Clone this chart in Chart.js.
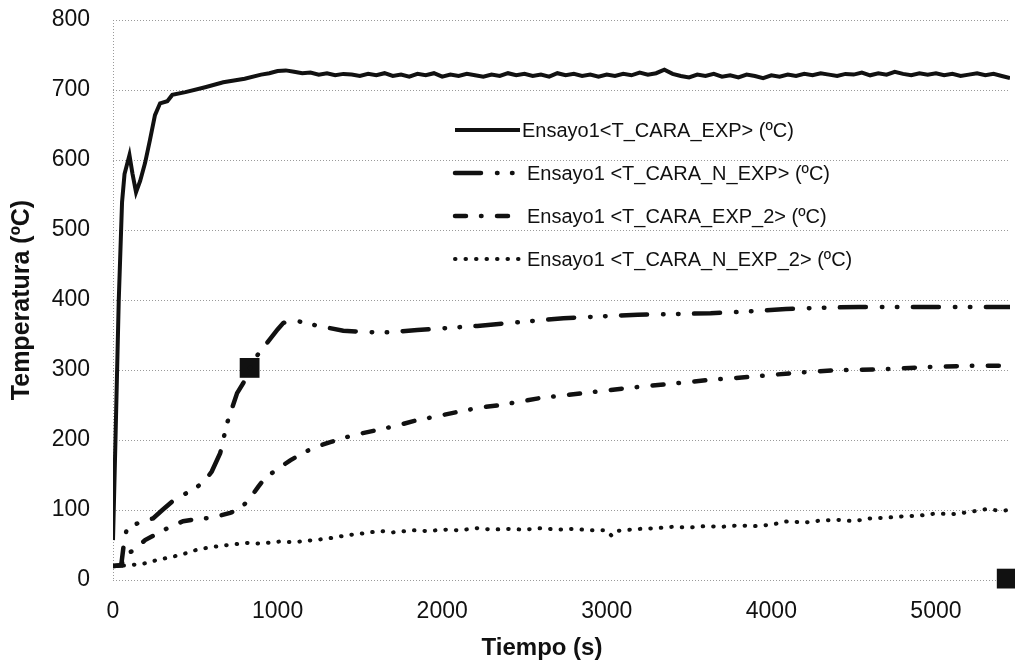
<!DOCTYPE html>
<html>
<head>
<meta charset="utf-8">
<script src="https://cdn.jsdelivr.net/npm/chart.js@4.4.0/dist/chart.umd.min.js"></script>
<style>
  html, body { margin: 0; padding: 0; background: #fff; }
  #wrap { width: 1015px; height: 669px; }
</style>
</head>
<body>
<div id="wrap"><canvas id="myChart" width="1015" height="669"></canvas></div>
<script>
// Ensayo1 <T_CARA_EXP> (solid)
const tCara = [0, 15, 35, 55, 70, 100, 118, 140, 165, 195, 225, 255, 286, 330, 360, 440, 560, 670, 800, 900, 950,
  1000, 1050, 1100, 1150, 1200, 1250, 1300, 1350, 1400, 1450,
  1500, 1550, 1600, 1650, 1700, 1750, 1800, 1850, 1900, 1950,
  2000, 2050, 2100, 2150, 2200, 2250, 2300, 2350, 2400, 2450,
  2500, 2550, 2600, 2650, 2700, 2750, 2800, 2850, 2900, 2950,
  3000, 3050, 3100, 3150, 3200, 3250, 3300, 3350, 3400, 3450,
  3500, 3550, 3600, 3650, 3700, 3750, 3800, 3850, 3900, 3950,
  4000, 4050, 4100, 4150, 4200, 4250, 4300, 4350, 4400, 4450,
  4500, 4550, 4600, 4650, 4700, 4750, 4800, 4850, 4900, 4950,
  5000, 5050, 5100, 5150, 5200, 5250, 5300, 5350, 5400, 5450];
const vCara = [57, 200, 400, 540, 580, 607, 581, 554, 570, 596, 629, 664, 681, 684, 693, 697, 704, 711, 716, 722, 724,
  727, 728, 726, 724, 725, 722, 724, 721, 723, 722,
  720, 723, 721, 724, 720, 722, 719, 723, 721, 724,
  719, 722, 720, 723, 721, 719, 722, 720, 724, 721,
  723, 720, 722, 719, 724, 721, 723, 720, 722, 719,
  722, 720, 723, 721, 725, 722, 724, 729, 723, 720,
  718, 722, 720, 723, 719, 721, 718, 722, 720, 717,
  721, 719, 722, 720, 723, 721, 724, 722, 720, 723,
  722, 725, 721, 724, 722, 726, 723, 721, 724, 722,
  724, 721, 723, 720, 722, 724, 721, 723, 720, 717];

// Ensayo1 <T_CARA_N_EXP>
const tCaraN = [0, 50, 65, 85, 150, 243, 300, 359, 438, 511, 560, 600, 651, 693, 754, 791, 833, 880, 937, 1000, 1034, 1080,
  1137, 1229, 1399, 1575, 1673, 1849, 2031, 2214, 2400, 2737, 3000, 3187, 3400, 3631, 3814, 4088, 4300, 4532, 4982, 5200, 5450];
const vCaraN = [20, 21, 50, 75, 81, 88, 100, 112, 123, 133, 142, 155, 181, 224, 267, 281, 303, 322, 339, 358, 367, 371,
  369, 364, 356, 354, 354, 357, 360, 363, 367, 374, 377, 379, 380, 381, 383, 387, 389, 390, 390, 390, 390];

// Ensayo1 <T_CARA_EXP_2>
const tCara2 = [0, 50, 70, 128, 195, 268, 347, 426, 505, 602, 712, 760, 821, 882, 925, 991, 1077, 1137, 1217, 1320, 1460,
  1582, 1715, 1825, 1971, 2092, 2220, 2354, 2597, 2859, 3114, 3376, 3631, 3863, 4148, 4410, 4677, 4927, 5195, 5450];
const vCara2 = [20, 21, 35, 43, 57, 66, 76, 84, 87, 89, 96, 100, 113, 133, 146, 157, 171, 179, 189, 197, 207,
  213, 220, 227, 234, 240, 246, 250, 260, 267, 274, 280, 286, 290, 296, 300, 301, 304, 306, 306];

// Ensayo1 <T_CARA_N_EXP_2>
const tCaraN2 = [0, 100, 200, 275, 360, 440, 520, 600, 700, 815, 900, 1015, 1100, 1217, 1300, 1423, 1500, 1624, 1700, 1825,
  1900, 2031, 2100, 2214, 2300, 2400, 2500, 2600, 2700, 2800, 2900, 3000, 3030, 3060, 3100, 3200, 3300, 3400, 3500, 3600,
  3700, 3800, 3900, 4000, 4100, 4200, 4300, 4400, 4500, 4600, 4700, 4800, 4900, 5000, 5100, 5200, 5300, 5400, 5450];
const vCaraN2 = [20, 21, 24, 29, 33, 38, 44, 47, 50, 53, 52, 55, 54, 57, 59, 64, 66, 70, 68, 71,
  70, 72, 71, 74, 72, 73, 72, 74, 72, 73, 71, 71, 63, 70, 71, 73, 74, 76, 75, 77,
  76, 78, 77, 79, 84, 82, 85, 86, 84, 88, 89, 91, 92, 95, 94, 97, 101, 99, 100];

// black square marks
const markX = [830, 5430];
const markY = [303, 2];

const legendLabels = [
  'Ensayo1<T_CARA_EXP> (ºC)',
  'Ensayo1 <T_CARA_N_EXP> (ºC)',
  'Ensayo1 <T_CARA_EXP_2> (ºC)',
  'Ensayo1 <T_CARA_N_EXP_2> (ºC)'
];
const yTicks = [0, 100, 200, 300, 400, 500, 600, 700, 800];
const xTicks = [0, 1000, 2000, 3000, 4000, 5000];
const xTitle = 'Tiempo (s)';

function pts(ts, vs) {
  return ts.map((t, i) => ({ x: t, y: vs[i] }));
}

const FONT = "'Liberation Sans', Arial, sans-serif";

const lineStyles = [
  { borderWidth: 4, borderDash: [], cap: 'butt' },
  { borderWidth: 4.5, borderDash: [26, 16, 0.5, 14.5, 0.5, 15.5], cap: 'round' },
  { borderWidth: 4.5, borderDash: [11, 15, 0.5, 15.5], cap: 'round' },
  { borderWidth: 4, borderDash: [0.5, 10], cap: 'round' }
];

function lineSet(label, data, st) {
  return {
    label: label,
    data: data,
    borderColor: '#111',
    backgroundColor: '#111',
    borderWidth: st.borderWidth,
    borderDash: st.borderDash,
    borderCapStyle: st.cap,
    pointRadius: 0,
    tension: 0,
    fill: false
  };
}

// legend drawn inside the plot area, plus the x title (sits a bit left of centre in the original)
const innerLegend = {
  id: 'innerLegend',
  afterDatasetsDraw(chart) {
    const ctx = chart.ctx;
    const x0 = 455, x1 = 520;
    const rows = [130, 173, 216, 259];
    ctx.save();
    legendLabels.forEach((txt, i) => {
      const st = lineStyles[i];
      ctx.strokeStyle = '#111';
      ctx.lineWidth = st.borderWidth;
      ctx.lineCap = st.cap;
      ctx.setLineDash(st.borderDash);
      ctx.beginPath();
      ctx.moveTo(x0, rows[i]);
      ctx.lineTo(i === 0 ? x1 : x1 + 2, rows[i]);
      ctx.stroke();
      ctx.setLineDash([]);
      ctx.fillStyle = '#111';
      ctx.font = '20px ' + FONT;
      ctx.textBaseline = 'middle';
      ctx.textAlign = 'left';
      ctx.fillText(txt, i === 0 ? 522 : 527, rows[i] + 1);
    });
    ctx.font = 'bold 24px ' + FONT;
    ctx.textAlign = 'center';
    ctx.textBaseline = 'middle';
    ctx.fillText(xTitle, 542, 648);
    ctx.restore();
  }
};

const ctx = document.getElementById('myChart').getContext('2d');
new Chart(ctx, {
  type: 'line',
  data: {
    datasets: [
      lineSet(legendLabels[0], pts(tCara, vCara), lineStyles[0]),
      lineSet(legendLabels[1], pts(tCaraN, vCaraN), lineStyles[1]),
      lineSet(legendLabels[2], pts(tCara2, vCara2), lineStyles[2]),
      lineSet(legendLabels[3], pts(tCaraN2, vCaraN2), lineStyles[3]),
      {
        type: 'scatter',
        label: 'marks',
        data: pts(markX, markY),
        pointStyle: 'rect',
        pointRadius: 14,
        backgroundColor: '#111',
        borderColor: '#111',
        borderWidth: 0,
        showLine: false,
        clip: false
      }
    ]
  },
  options: {
    responsive: false,
    animation: false,
    layout: { autoPadding: false, padding: { top: 20, right: 5, left: 0, bottom: 0 } },
    plugins: {
      legend: { display: false },
      tooltip: { enabled: false }
    },
    scales: {
      x: {
        type: 'linear',
        min: 0,
        max: 5450,
        afterBuildTicks: s => { s.ticks = xTicks.map(v => ({ value: v })); },
        afterFit: s => { s.height = 89; s.paddingLeft = 0; s.paddingRight = 0; },
        grid: {
          drawTicks: false,
          color: c => (c.tick && c.tick.value === 0 ? '#9a9a9a' : 'rgba(0,0,0,0)'),
          lineWidth: 1
        },
        border: { display: false, dash: [1, 2] },
        ticks: {
          padding: 18,
          color: '#111',
          maxRotation: 0,
          autoSkip: false,
          font: { family: FONT, size: 23 },
          callback: v => String(v)
        },
        title: { display: false }
      },
      y: {
        min: 0,
        max: 800,
        afterBuildTicks: s => { s.ticks = yTicks.map(v => ({ value: v })); },
        afterFit: s => { s.width = 113; s.paddingTop = 0; s.paddingBottom = 0; },
        grid: {
          drawTicks: false,
          color: '#9a9a9a',
          lineWidth: 1
        },
        border: { display: false, dash: [1, 2] },
        ticks: {
          padding: 23,
          color: '#111',
          font: { family: FONT, size: 23 },
          callback: v => String(v)
        },
        title: {
          display: true,
          text: 'Temperatura (ºC)',
          color: '#111',
          font: { family: FONT, size: 25, weight: 'bold' },
          padding: { top: 7, bottom: 0 }
        }
      }
    }
  },
  plugins: [innerLegend]
});
</script>
</body>
</html>
